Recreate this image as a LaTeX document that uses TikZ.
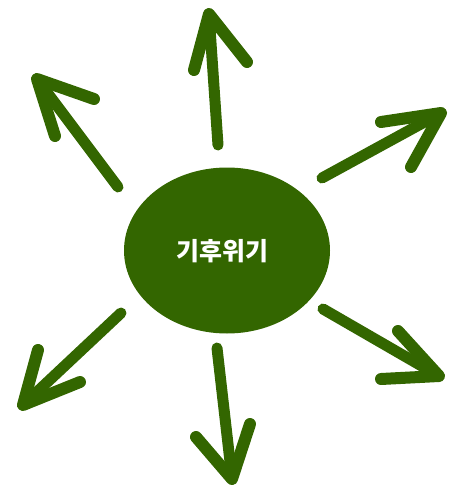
\documentclass[tikz,border=0pt]{standalone}
\usepackage{fontspec}
\usetikzlibrary{shapes.geometric}
\newfontfamily\kr{Noto Sans CJK KR}
\definecolor{leaf}{HTML}{336600}
\begin{document}
\begin{tikzpicture}[x=1pt,y=-1pt,
  shaft/.style={draw=leaf,line width=11pt,line cap=round},
  head/.style={draw=leaf,line width=12pt,line cap=round,line join=round},
  hub/.style={ellipse,fill=leaf,minimum width=206pt,minimum height=166pt,inner sep=0pt},
  lbl/.style={text=white,font=\kr\bfseries\fontsize{25}{28}\selectfont,inner sep=0pt}]
\useasboundingbox (0,0) rectangle (461,490);
\node[hub] (c) at (227,250.5) {};
\node[lbl] (txt) at (222,251) {기후위기};
% top
\coordinate (t0) at (218,145); \coordinate (t1) at (209,14);
\coordinate (tw1) at (194,70); \coordinate (tw2) at (247,62);
% upper left
\coordinate (ul0) at (118,187); \coordinate (ul1) at (37,79);
\coordinate (ulw1) at (55,136); \coordinate (ulw2) at (94,99);
% upper right
\coordinate (ur0) at (322,178); \coordinate (ur1) at (441,113);
\coordinate (urw1) at (381,122); \coordinate (urw2) at (411,167);
% lower left
\coordinate (ll0) at (121,313); \coordinate (ll1) at (23,405);
\coordinate (llw1) at (38,350); \coordinate (llw2) at (80,382);
% bottom
\coordinate (b0) at (217,348); \coordinate (b1) at (232,479);
\coordinate (bw1) at (196,437); \coordinate (bw2) at (250,424);
% lower right
\coordinate (lr0) at (323,309); \coordinate (lr1) at (439,376);
\coordinate (lrw1) at (381,379); \coordinate (lrw2) at (398,331);
\foreach \a in {t,ul,ur,ll,b,lr}{
  \draw[shaft] (\a0) -- (\a1);
  \draw[head] (\a w1) -- (\a1) -- (\a w2);
}
\end{tikzpicture}
\end{document}
